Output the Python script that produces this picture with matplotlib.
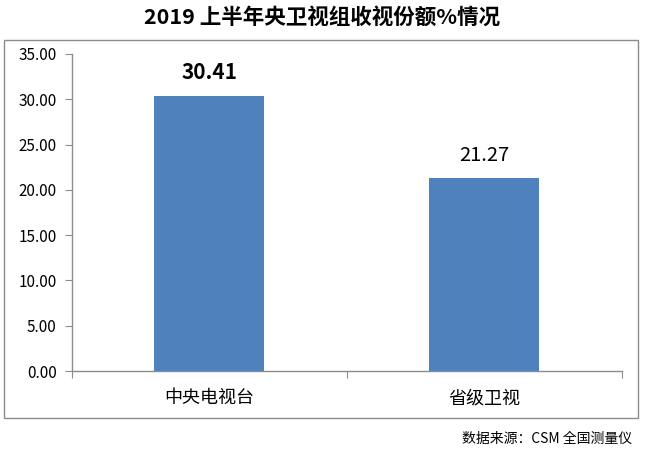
import matplotlib
matplotlib.use("Agg")
import matplotlib.pyplot as plt
from matplotlib.patches import Rectangle
from matplotlib.ticker import FormatStrFormatter, FixedLocator, NullFormatter

plt.rcParams['font.family'] = ['Noto Sans CJK SC', 'DejaVu Sans']

title = "2019 上半年央卫视组收视份额%情况"
categories = ["中央电视台", "省级卫视"]
values = [30.41, 21.27]
source = "数据来源：CSM 全国测量仪"

fig = plt.figure(figsize=(6.45, 4.53), dpi=100)
fig.patch.set_facecolor("white")

# outer chart box
fig.patches.append(Rectangle((0.0062, 0.0773), 0.9828, 0.8344, transform=fig.transFigure,
                             fill=False, edgecolor="#8c8c8c", linewidth=1.0))

ax = fig.add_axes([0.1116, 0.181, 0.8527, 0.6998])
x = list(range(len(categories)))
ax.bar(x, values, width=0.4, color="#4F81BD", zorder=2)
ax.set_xlim(-0.5, len(categories) - 0.5)
ax.set_ylim(0, 35)
ax.set_yticks([0, 5, 10, 15, 20, 25, 30, 35])
ax.yaxis.set_major_formatter(FormatStrFormatter('%.2f'))
ax.tick_params(axis='y', labelsize=11, length=5, color="#8c8c8c", pad=6, labelcolor="#000000")

ax.xaxis.set_major_locator(FixedLocator([-0.5, 0.5, 1.5]))
ax.xaxis.set_major_formatter(NullFormatter())
ax.xaxis.set_minor_locator(FixedLocator(x))
ax.set_xticklabels(categories, minor=True)
ax.tick_params(axis='x', which='major', length=5, color="#8c8c8c")
ax.tick_params(axis='x', which='minor', length=0, labelsize=13, pad=13)

for s in ["top", "right"]:
    ax.spines[s].set_visible(False)
for s in ["left", "bottom"]:
    ax.spines[s].set_color("#8c8c8c")
    ax.spines[s].set_linewidth(1.0)

ax.text(x[0], values[0] + 1.4, f"{values[0]:.2f}", ha='center', va='bottom',
        fontsize=15, fontweight='bold')
ax.text(x[1], values[1] + 1.4, f"{values[1]:.2f}", ha='center', va='bottom',
        fontsize=14.5)

fig.text(0.5, 0.962, title, ha='center', va='center', fontsize=15.5, fontweight='bold')
fig.text(0.98, 0.03, source, ha='right', va='center', fontsize=10)

fig.savefig("out.png", dpi=100)
